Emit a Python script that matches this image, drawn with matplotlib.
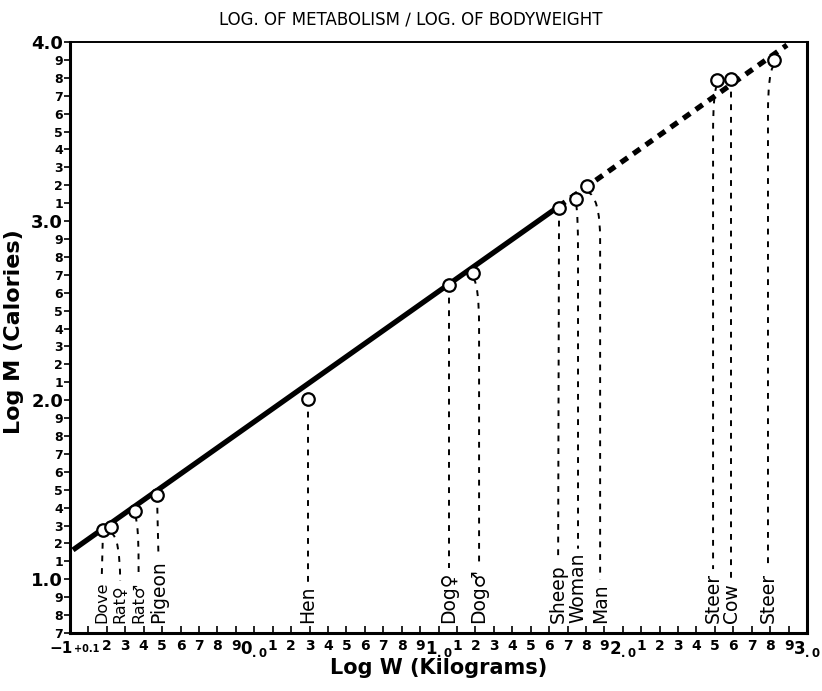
import matplotlib
matplotlib.use('Agg')
import matplotlib.pyplot as plt
import numpy as np
from matplotlib.path import Path
from matplotlib.patches import PathPatch

# data (log10 of kg, log10 of calories)
animals = ['Dove', 'Rat♀', 'Rat♂', 'Pigeon', 'Hen', 'Dog♀', 'Dog♂',
           'Sheep', 'Woman', 'Man', 'Steer', 'Cow', 'Steer']
log_w = [-0.821, -0.777, -0.647, -0.528, 0.292, 1.057, 1.188,
         1.654, 1.746, 1.806, 2.512, 2.588, 2.821]
log_m = [1.274, 1.290, 1.384, 1.470, 2.006, 2.643, 2.710,
         3.073, 3.123, 3.196, 3.788, 3.794, 3.900]
label_w = [-0.828, -0.728, -0.628, -0.520, 0.292, 1.057, 1.220,
           1.649, 1.757, 1.877, 2.490, 2.588, 2.788]
label_size = [11.5, 11.5, 11.5, 13.5, 13.5, 13.5, 13.5,
              13.5, 13.5, 13.5, 13.5, 13.5, 13.5]

# fitted line: solid part, then dashed extrapolation
fit_solid_x = [-0.984, 1.650]
fit_solid_y = [1.164, 3.080]
fit_dash_x = [1.650, 2.891]
fit_dash_y = [3.080, 3.983]

fig = plt.figure(figsize=(8.22, 6.91), dpi=100)
ax = fig.add_axes([0.0852, 0.0839, 0.8966, 0.8553])
ax.set_xlim(-1.0, 3.0)
ax.set_ylim(0.7, 4.0)

ax.plot(fit_solid_x, fit_solid_y, color='black', lw=3.8, solid_capstyle='butt', zorder=3)
ax.plot(fit_dash_x, fit_dash_y, color='black', lw=3.8, ls=(0, (1.6, 1.3)), zorder=3)

# labels first, so the drop lines can stop just above them
texts = []
for name, lx, fs in zip(animals, label_w, label_size):
    texts.append(ax.text(lx, 0.755, name, rotation=90, ha='center', va='bottom',
                         fontsize=fs, color='black', zorder=4))
fig.canvas.draw()
inv = ax.transData.inverted()

for t, x, y, lx in zip(texts, log_w, log_m, label_w):
    bb = t.get_window_extent()
    top = inv.transform((bb.x0, bb.y1 + 4))[1]
    if abs(lx - x) > 0.01:
        verts = [(x, y - 0.03), (lx, y - 0.06), (lx, y - 0.3), (lx, top)]
        codes = [Path.MOVETO, Path.CURVE3, Path.CURVE3, Path.LINETO]
    else:
        verts = [(x, y), (lx, top)]
        codes = [Path.MOVETO, Path.LINETO]
    ax.add_patch(PathPatch(Path(verts, codes), fill=False, lw=1.4,
                           ls=(0, (3, 3.5)), color='black', zorder=2))

ax.plot(log_w, log_m, 'o', ms=9, mfc='white', mec='black', mew=1.6, zorder=5)

# y ticks
yt = np.round(np.arange(0.7, 4.01, 0.1), 1)
ax.set_yticks(yt)
ylabs = []
for v in yt:
    if abs(v - round(v)) < 1e-6:
        ylabs.append('%.1f' % v)
    else:
        ylabs.append(str(int(round(v * 10)) % 10))
ax.set_yticklabels(ylabs)
for v, t in zip(yt, ax.get_yticklabels()):
    t.set_fontweight('bold')
    t.set_fontsize(13 if abs(v - round(v)) < 1e-6 else 9)
ax.tick_params(axis='y', direction='out', length=4, width=1.2, pad=1)

# x ticks
xt = np.round(np.arange(-1.0, 3.01, 0.1), 1)
ax.set_xticks(xt)
xlabs = []
for v in xt:
    if v < -0.85:
        xlabs.append('')
    elif abs(v - round(v)) < 1e-6:
        xlabs.append(r'$\mathbf{%d}_{\mathbf{.0}}$' % int(round(abs(v))))
    elif v > 0:
        xlabs.append(str(int(round(v * 10)) % 10))
    else:
        xlabs.append(str(int(round(10 + v * 10))))
ax.set_xticklabels(xlabs)
for v, t in zip(xt, ax.get_xticklabels()):
    t.set_fontweight('bold')
    t.set_fontsize(12 if abs(v - round(v)) < 1e-6 else 10)
ax.tick_params(axis='x', direction='in', length=5, width=1.2, pad=4)
ax.annotate('−1', xy=(-1.0, 0), xycoords=('data', 'axes fraction'),
            xytext=(2, -6), textcoords='offset points', ha='right', va='top',
            fontsize=11, fontweight='bold')
ax.annotate('+0.1', xy=(-1.0, 0), xycoords=('data', 'axes fraction'),
            xytext=(3, -8), textcoords='offset points', ha='left', va='top',
            fontsize=7, fontweight='bold')

for side in ['left', 'bottom', 'right']:
    ax.spines[side].set_linewidth(2.2)
ax.spines['top'].set_linewidth(1.4)

ax.set_xlabel('Log W (Kilograms)', fontsize=15, fontweight='bold')
ax.xaxis.set_label_coords(0.5, -0.043)
ax.set_ylabel('Log M (Calories)', fontsize=16, fontweight='bold')
ax.yaxis.set_label_coords(-0.062, 0.51)
fig.text(0.5, 0.972, 'LOG. OF METABOLISM ∕ LOG. OF BODYWEIGHT', ha='center', va='center',
         fontsize=12)

fig.savefig('out.png', dpi=100, facecolor='white')
